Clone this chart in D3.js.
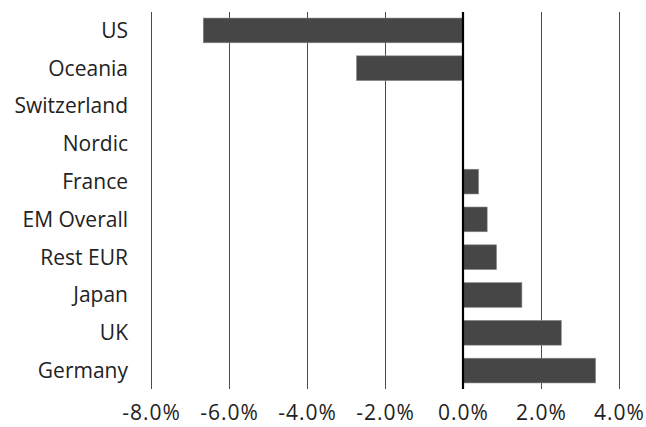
<!DOCTYPE html>
<html>
<head>
<meta charset="utf-8">
<script src="https://cdn.jsdelivr.net/npm/d3@7"></script>
<style>
  body { margin: 0; background: #fff; }
  text { font-family: "Open Sans", sans-serif; fill: #222; }
</style>
</head>
<body>
<div id="chart"></div>
<script>
// categorias de arriba a abajo y sus valores (%)
var regiones = ["US", "Oceania", "Switzerland", "Nordic", "France", "EM Overall", "Rest EUR", "Japan", "UK", "Germany"];
var valores = [-6.66, -2.73, 0, 0, 0.40, 0.62, 0.86, 1.51, 2.52, 3.40];
var ticksX = [-8, -6, -4, -2, 0, 2, 4];

var W = 646, H = 427;
var margin = {top: 12, right: 27, bottom: 38, left: 151},
    w = W - margin.left - margin.right,
    h = H - margin.top - margin.bottom;

var svg = d3.select("#chart").append("svg")
  .attr("width", W).attr("height", H)
  .append("g")
  .attr("transform", "translate(" + margin.left + "," + margin.top + ")");

var x = d3.scaleLinear().domain([-8, 4]).range([0, w]);
var y = d3.scaleBand().domain(regiones).range([0, h])
  .paddingInner(0.345).paddingOuter(0.16);

// rejilla vertical
svg.append("g").attr("class", "grid")
  .selectAll("line").data(ticksX.filter(function(d){ return d !== 0; }))
  .enter().append("line")
  .attr("x1", function(d){ return x(d); })
  .attr("x2", function(d){ return x(d); })
  .attr("y1", 0).attr("y2", h)
  .attr("stroke", "#4a4a4a").attr("stroke-width", 1)
  .attr("shape-rendering", "crispEdges");

// barras
svg.selectAll("rect.bar")
  .data(regiones.map(function(r, i){ return {r: r, v: valores[i]}; }))
  .enter().append("rect")
  .attr("class", "bar")
  .attr("x", function(d){ return x(Math.min(0, d.v)); })
  .attr("width", function(d){ return Math.abs(x(d.v) - x(0)); })
  .attr("y", function(d){ return y(d.r); })
  .attr("height", y.bandwidth())
  .attr("fill", "#464646")
  .attr("stroke", "#8a8a8a").attr("stroke-width", 0.6);

// linea del cero
svg.append("line")
  .attr("x1", x(0)).attr("x2", x(0))
  .attr("y1", 0).attr("y2", h)
  .attr("stroke", "#000").attr("stroke-width", 2.2);

// eje y: etiquetas
var yAxis = d3.axisLeft(y).tickSize(0).tickPadding(23);
var gy = svg.append("g").call(yAxis);
gy.select(".domain").remove();
gy.selectAll("text").style("font-size", "21px").attr("dy", "0.35em");

// eje x: etiquetas (guion normal, no signo menos)
var xAxis = d3.axisBottom(x).tickValues(ticksX).tickSize(0).tickPadding(16)
  .tickFormat(function(d){ return d.toFixed(1) + "%"; });
var gx = svg.append("g").attr("transform", "translate(0," + h + ")").call(xAxis);
gx.select(".domain").remove();
gx.selectAll("text").style("font-size", "21px").style("letter-spacing", "1px");
</script>
</body>
</html>
